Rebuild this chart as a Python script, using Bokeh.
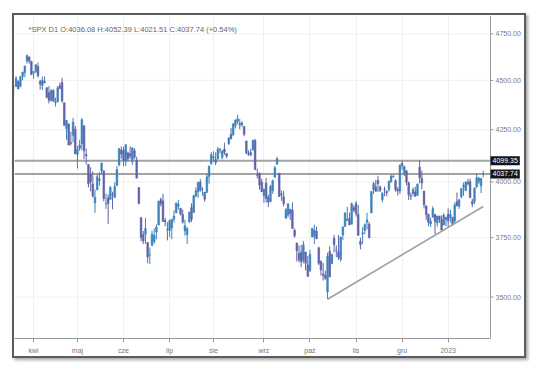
import pandas as pd
from bokeh.plotting import figure
from bokeh.models import ColumnDataSource, FixedTicker, Range1d, Label, Span
from bokeh.core.properties import value
from bokeh.embed import file_html
from bokeh.resources import INLINE

# ---- data (S&P 500 daily) ----
opens = (
    [4462, 4469, 4494, 4470, 4522, 4541, 4602, 4624, 4600]
    + [4540, 4547, 4573, 4495, 4474, 4495, 4462, 4437, 4398, 4449, 4385, 4390, 4473, 4489, 4385, 4255, 4279, 4187, 4223, 4253]
    + [4130, 4159, 4182, 4270, 4129, 4082, 4035, 3991, 3904, 3963, 4014, 4053, 4052, 3899, 3927, 3920, 3943, 3930, 3984, 4078, 4151]
    + [4149, 4096, 4137, 4134, 4097, 4148, 4102, 3974, 3838, 3763, 3765, 3729, 3675, 3716, 3733, 3775, 3805, 3920, 3913, 3825, 3786]
    + [3781, 3792, 3831, 3859, 3889, 3880, 3852, 3779, 3763, 3818, 3883, 3861, 3935, 3955, 3999, 3966, 3953, 3951, 4026, 4087]
    + [4113, 4105, 4108, 4154, 4116, 4156, 4134, 4181, 4227, 4225, 4269, 4291, 4281, 4274, 4266, 4195, 4134, 4127, 4154, 4198, 4034, 4041, 4000]
    + [3937, 3995, 3930, 3910, 3959, 4022, 4083, 4041, 3940, 3932, 3836, 3849, 3876, 3872, 3782, 3727, 3682, 3687, 3652, 3688, 3633]
    + [3609, 3753, 3754, 3778, 3706, 3647, 3595, 3590, 3521, 3690, 3638, 3747, 3696, 3689, 3657, 3761, 3799, 3825, 3834, 3809, 3882]
    + [3902, 3853, 3734, 3766, 3781, 3817, 3810, 3859, 3964, 3978, 4007, 3977, 3919, 3967, 3956, 3965, 4000, 4023, 4006, 3965, 3958]
    + [4088, 4040, 4053, 3996, 3937, 3947, 3954, 3939, 4069, 4016, 3958, 3891, 3853, 3810, 3840, 3853, 3815, 3844, 3829, 3805, 3830]
    + [3853, 3840, 3840, 3823, 3911, 3889, 3932, 3977, 3961, 3999, 4002, 3911, 3910, 3978, 4002, 3982, 4036.08]
)
highs = (
    [4481, 4522, 4501, 4520, 4546, 4576, 4637, 4627, 4604]
    + [4549, 4583, 4594, 4504, 4521, 4521, 4464, 4471, 4454, 4453, 4411, 4471, 4489, 4513, 4386, 4299, 4279, 4240, 4309, 4269]
    + [4170, 4200, 4308, 4270, 4158, 4082, 4069, 4050, 3965, 4038, 4046, 4090, 4052, 3946, 3943, 3982, 3955, 3999, 4075, 4158, 4169]
    + [4166, 4177, 4143, 4169, 4165, 4160, 4119, 3974, 3838, 3779, 3837, 3729, 3707, 3780, 3790, 3808, 3913, 3928, 3945, 3836, 3818]
    + [3829, 3832, 3871, 3906, 3918, 3880, 3874, 3829, 3796, 3864, 3902, 3939, 3975, 3999, 4013, 3976, 3953, 4040, 4079, 4141]
    + [4145, 4140, 4167, 4161, 4151, 4187, 4137, 4211, 4258, 4280, 4301, 4325, 4303, 4292, 4266, 4195, 4149, 4157, 4200, 4204, 4062, 4044, 4015]
    + [3970, 4018, 3942, 3987, 4011, 4076, 4119, 4041, 3962, 3959, 3881, 3900, 3876, 3907, 3790, 3727, 3716, 3718, 3736, 3688, 3671]
    + [3698, 3792, 3807, 3798, 3711, 3653, 3641, 3609, 3685, 3713, 3680, 3762, 3717, 3762, 3754, 3799, 3862, 3887, 3860, 3905, 3894]
    + [3912, 3895, 3750, 3796, 3813, 3860, 3818, 3959, 4001, 4009, 4029, 3983, 3955, 3979, 3962, 4005, 4034, 4034, 4013, 3976, 4080]
    + [4101, 4077, 4053, 4002, 3951, 3975, 3978, 3991, 4101, 4053, 3958, 3891, 3855, 3838, 3889, 3853, 3846, 3847, 3849, 3858, 3840]
    + [3879, 3873, 3840, 3906, 3951, 3920, 3970, 3998, 4004, 4015, 4015, 3923, 3973, 4039, 4024, 4019, 4052.39]
)
lows = (
    [4425, 4469, 4455, 4465, 4501, 4517, 4589, 4588, 4530]
    + [4507, 4539, 4515, 4452, 4450, 4485, 4408, 4381, 4392, 4392, 4366, 4390, 4455, 4385, 4268, 4200, 4175, 4173, 4188, 4132]
    + [4063, 4147, 4152, 4107, 4082, 3975, 3957, 3928, 3859, 3963, 3983, 4034, 3911, 3877, 3810, 3920, 3875, 3926, 3984, 4078, 4110]
    + [4074, 4074, 4098, 4109, 4080, 4107, 4017, 3900, 3734, 3722, 3723, 3640, 3637, 3716, 3723, 3743, 3805, 3888, 3820, 3800, 3738]
    + [3753, 3743, 3816, 3859, 3873, 3847, 3811, 3759, 3722, 3818, 3819, 3861, 3930, 3927, 3955, 3936, 3910, 3951, 3992, 4080]
    + [4097, 4079, 4107, 4135, 4107, 4128, 4112, 4177, 4201, 4220, 4257, 4278, 4253, 4263, 4218, 4131, 4124, 4121, 4147, 4057, 4017, 3965, 3954]
    + [3904, 3906, 3886, 3907, 3945, 4022, 4083, 3933, 3914, 3888, 3831, 3839, 3827, 3789, 3750, 3648, 3644, 3624, 3640, 3610, 3584]
    + [3604, 3753, 3723, 3745, 3632, 3589, 3568, 3571, 3492, 3583, 3638, 3686, 3666, 3655, 3647, 3740, 3799, 3825, 3804, 3809, 3863]
    + [3843, 3759, 3699, 3722, 3764, 3786, 3749, 3859, 3944, 3956, 3954, 3955, 3906, 3935, 3934, 3956, 3999, 4020, 3955, 3937, 3944]
    + [4057, 4027, 3985, 3918, 3917, 3936, 3934, 3936, 3994, 3966, 3879, 3828, 3800, 3796, 3840, 3765, 3798, 3814, 3782, 3805, 3800]
    + [3795, 3816, 3802, 3809, 3888, 3877, 3924, 3937, 3958, 3984, 3926, 3885, 3898, 3972, 3990, 3949, 4021.51]
)
closes = (
    [4461, 4512, 4456, 4520, 4543, 4576, 4632, 4602, 4530]
    + [4546, 4583, 4525, 4481, 4500, 4488, 4413, 4397, 4447, 4393, 4392, 4462, 4459, 4394, 4272, 4296, 4175, 4184, 4288, 4132]
    + [4155, 4175, 4300, 4147, 4123, 3991, 4001, 3935, 3930, 4024, 4008, 4089, 3924, 3901, 3901, 3974, 3941, 3979, 4058, 4158, 4132]
    + [4101, 4177, 4109, 4121, 4161, 4116, 4018, 3901, 3750, 3735, 3790, 3667, 3675, 3765, 3760, 3796, 3912, 3900, 3822, 3819, 3785]
    + [3825, 3831, 3845, 3903, 3899, 3854, 3819, 3802, 3790, 3863, 3831, 3937, 3960, 3999, 3962, 3967, 3921, 4024, 4072, 4130]
    + [4119, 4091, 4155, 4152, 4145, 4140, 4122, 4210, 4207, 4280, 4297, 4305, 4274, 4284, 4228, 4138, 4129, 4141, 4199, 4058, 4031, 3986, 3955]
    + [3967, 3924, 3908, 3980, 4006, 4067, 4110, 3933, 3946, 3901, 3873, 3900, 3856, 3790, 3758, 3693, 3655, 3647, 3719, 3640, 3586]
    + [3678, 3791, 3783, 3745, 3640, 3612, 3589, 3577, 3670, 3583, 3678, 3720, 3695, 3666, 3753, 3797, 3859, 3831, 3807, 3901, 3872]
    + [3856, 3760, 3720, 3771, 3807, 3828, 3749, 3956, 3993, 3957, 3992, 3959, 3947, 3965, 3950, 4004, 4027, 4026, 3964, 3958, 4080]
    + [4077, 4072, 3999, 3941, 3934, 3964, 3934, 3991, 4020, 3995, 3896, 3852, 3818, 3822, 3878, 3822, 3845, 3829, 3783, 3849, 3840]
    + [3824, 3853, 3808, 3895, 3892, 3919, 3970, 3983, 3999, 3991, 3929, 3899, 3973, 4020, 4017, 4016, 4037.74]
)

holidays = ["2022-04-15", "2022-05-30", "2022-06-20", "2022-07-04", "2022-09-05",
            "2022-11-24", "2022-12-26", "2023-01-02", "2023-01-16"]
month_starts = ["2022-04-01", "2022-05-02", "2022-06-01", "2022-07-01", "2022-08-01",
                "2022-09-01", "2022-10-03", "2022-11-01", "2022-12-01", "2023-01-03"]
month_labels = ["kwi", "maj", "cze", "lip", "sie", "wrz", "paź", "lis", "gru", "2023"]
price_ticks = [3500, 3750, 4000, 4250, 4500, 4750]
levels = [4099.35, 4037.74]
trend_dates = ["2022-10-13", "2023-01-26"]
trend_values = [3491.58, 3888.0]
header = "*SPX D1 O:4036.08 H:4052.39 L:4021.51 C:4037.74 (+0.54%)"

# ---- build ----
dates = [d.strftime("%Y-%m-%d") for d in pd.bdate_range("2022-03-21", "2023-01-26")]
dates = [d for d in dates if d not in holidays]
idx = list(range(len(dates)))
tick_pos = [dates.index(s) for s in month_starts]
trend_x = [dates.index(s) for s in trend_dates]

UP, DOWN = "#3c84bd", "#5f63a8"
cols = [UP if c >= o else DOWN for o, c in zip(opens, closes)]
src = ColumnDataSource(dict(
    x=idx, o=opens, h=highs, l=lows, c=closes,
    top=[max(o, c) for o, c in zip(opens, closes)],
    bot=[min(o, c) for o, c in zip(opens, closes)],
    col=cols,
))

FONT = "Liberation Sans"
GREY = "#9a9a9a"
W, H = 514, 345
RB = 38                          # width of the price scale column (px)
X0, X1 = 0.3, 217.3              # visible range of the candle area
px = (W - RB) / (X1 - X0)        # pixels per trading day
XE = X0 + W / px                 # frame extends over the price-scale column

p = figure(width=W, height=H, x_range=Range1d(X0, XE), y_range=Range1d(3336, 4852),
           y_axis_type="log", y_axis_location=None, output_backend="svg",
           toolbar_location=None, min_border_left=0, min_border_top=0,
           min_border_right=0, min_border_bottom=22)
p.margin = (13, 0, 0, 12)
p.styles = {"border": "2px solid #5c5c5c", "box-shadow": "2px 2px 3px rgba(0,0,0,0.35)"}
p.outline_line_color = None
p.background_fill_color = "white"
p.border_fill_color = "white"

# vertical grid at month starts
p.xgrid.ticker = FixedTicker(ticks=tick_pos)
p.xgrid.grid_line_color = "#f0f0f0"
p.ygrid.visible = False
# horizontal grid at price ticks (limited to the candle area)
p.segment(x0=[X0] * len(price_ticks), x1=[X1] * len(price_ticks), y0=price_ticks,
          y1=price_ticks, line_color="#f0f0f0", line_width=1)

# x axis (stops at the price scale)
xa = p.xaxis[0]
xa.bounds = (X0, X1)
xa.ticker = FixedTicker(ticks=tick_pos)
xa.major_label_overrides = {t: l for t, l in zip(tick_pos, month_labels)}
xa.axis_line_color = GREY
xa.major_tick_line_color = GREY
xa.major_tick_out = 4
xa.major_tick_in = 0
xa.minor_tick_line_color = None
xa.major_label_text_font = FONT
xa.major_label_text_font_size = "7px"
xa.major_label_text_color = "#777777"
xa.major_label_standoff = 4

# price scale on the right: rule, ticks and labels
p.add_layout(Span(location=X1, dimension="height", line_color=GREY, line_width=1))
p.segment(x0=[X1] * len(price_ticks), x1=[X1 + 3 / px] * len(price_ticks),
          y0=price_ticks, y1=price_ticks, line_color=GREY, line_width=1)
p.text(x=[X1 + 5 / px] * len(price_ticks), y=price_ticks,
       text=[f"{t:.2f}" for t in price_ticks], text_font=value(FONT),
       text_font_size="7px", text_color="#7a7a7a", text_baseline="middle",
       text_align="left")

# level lines
p.segment(x0=[X0] * len(levels), x1=[X1] * len(levels), y0=levels, y1=levels,
          line_color="#a3a3a3", line_width=2)

# candles
p.segment(x0="x", y0="l", x1="x", y1="h", color="col", line_width=1, source=src)
p.vbar(x="x", width=0.75, top="top", bottom="bot", fill_color="col", line_color="col",
       line_width=0.6, source=src)

# trend line
p.line(x=trend_x, y=trend_values, line_color="#a0a0a0", line_width=1.6)

# header text
p.add_layout(Label(x=6.7, y=4772, text=header, text_font=FONT, text_font_size="7.5px",
                   text_color="#666666", text_baseline="middle", text_align="left"))

# price boxes on the price scale
for lv in levels:
    p.add_layout(Label(x=X1, y=lv, text=f"{lv:.2f}", text_font=FONT, text_font_size="7px",
                       text_color="white", text_baseline="middle", text_align="left",
                       x_offset=0, background_fill_color="#151515", padding=2))

open("out.html", "w").write(file_html(p, INLINE))
